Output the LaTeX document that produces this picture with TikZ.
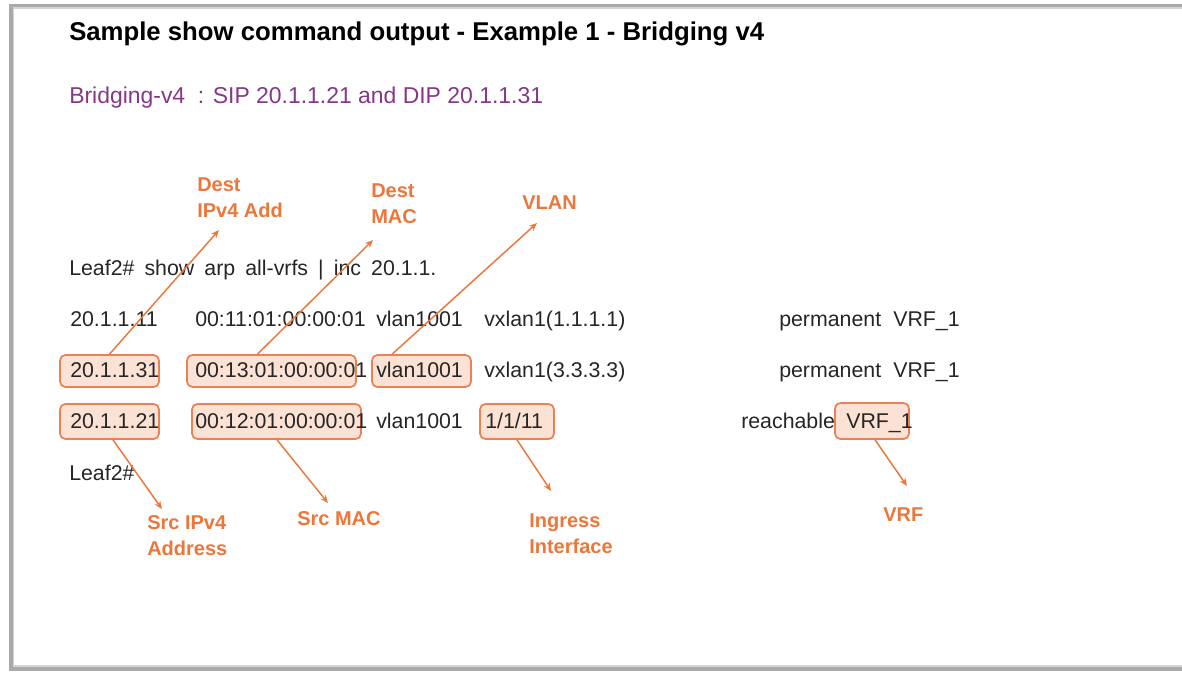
\documentclass[tikz,border=0pt]{standalone}
\usepackage{fontspec}
\setmainfont{Liberation Sans}
\newfontfamily\cmdfont[WordSpace=1.7]{Liberation Sans}
\usetikzlibrary{arrows.meta}
\definecolor{txt}{RGB}{38,38,38}
\definecolor{org}{RGB}{236,119,58}
\definecolor{boxfill}{RGB}{251,226,213}
\definecolor{boxline}{RGB}{234,130,85}
\definecolor{purp}{RGB}{135,55,135}
\definecolor{frame}{RGB}{170,170,170}
\tikzset{
  cell/.style={anchor=base west, inner sep=0pt, text=txt, font=\fontsize{16}{19}\selectfont},
  hbox/.style={draw=boxline, fill=boxfill, line width=1.3pt, rounded corners=4pt, inner sep=0pt},
  lab/.style={anchor=base west, inner sep=0pt, text=org, align=left, font=\fontsize{15}{19.5}\selectfont\bfseries},
  arr/.style={draw=org, line width=1.1pt, -{Stealth[length=6pt,width=5pt]}}
}
\begin{document}
\begin{tikzpicture}[x=0.75pt,y=-0.75pt]
\useasboundingbox (0,0) rectangle (1182,672);
\fill[white] (0,0) rectangle (1182,672);
% frame
\draw[frame, line width=3pt] (1182,5.5) -- (10.5,5.5) -- (10.5,668.5) -- (1182,668.5);
\draw[frame!50, line width=0.8pt] (1182,8) -- (13.5,8) -- (13.5,666) -- (1182,666);
% title
\node[anchor=base west, inner sep=0pt, font=\fontsize{19.3}{23}\selectfont\bfseries, text=black] (title) at (69,40) {Sample show command output - Example 1 - Bridging v4};
\node[anchor=base west, inner sep=0pt, font=\fontsize{17.2}{21}\selectfont, text=purp] (sub) at (69,103) {Bridging-v4\ \ : SIP 20.1.1.21 and DIP 20.1.1.31};
% highlight boxes
\node[hbox, minimum width=99*0.75pt, minimum height=32*0.75pt] (b1) at (109.5,371) {};
\node[hbox, minimum width=169*0.75pt, minimum height=32*0.75pt] (b2) at (271.5,371) {};
\node[hbox, minimum width=99*0.75pt, minimum height=32*0.75pt] (b3) at (421.5,371) {};
\node[hbox, minimum width=99*0.75pt, minimum height=35*0.75pt] (b4) at (109.5,421.5) {};
\node[hbox, minimum width=169*0.75pt, minimum height=35*0.75pt] (b5) at (276.5,421.5) {};
\node[hbox, minimum width=74*0.75pt, minimum height=35*0.75pt] (b6) at (517,421.5) {};
\node[hbox, minimum width=74*0.75pt, minimum height=36*0.75pt] (b7) at (872,421) {};
% command text
\node[cell, font=\cmdfont\fontsize{16}{19}\selectfont] (cmd) at (69,275) {Leaf2\# show arp all-vrfs | inc 20.1.1.};
% row 1
\node[cell] (r1a) at (70,326) {20.1.1.11};
\node[cell] (r1b) at (195,326) {00:11:01:00:00:01};
\node[cell] (r1c) at (376,326) {vlan1001};
\node[cell] (r1d) at (484,326) {vxlan1(1.1.1.1)};
\node[cell] (r1e) at (779,326) {permanent};
\node[cell] (r1f) at (893,326) {VRF\_1};
% row 2
\node[cell] (r2a) at (70,377) {20.1.1.31};
\node[cell] (r2b) at (195,377) {00:13:01:00:00:01};
\node[cell] (r2c) at (376,377) {vlan1001};
\node[cell] (r2d) at (484,377) {vxlan1(3.3.3.3)};
\node[cell] (r2e) at (779,377) {permanent};
\node[cell] (r2f) at (893,377) {VRF\_1};
% row 3
\node[cell] (r3a) at (70,428) {20.1.1.21};
\node[cell] (r3b) at (195,428) {00:12:01:00:00:01};
\node[cell] (r3c) at (376,428) {vlan1001};
\node[cell] (r3d) at (485,428) {1/1/11};
\node[cell] (r3e) at (741,428) {reachable};
\node[cell] (r3f) at (846,428) {VRF\_1};
\node[cell] (prompt) at (69,480) {Leaf2\#};
% labels (base = baseline of last line)
\node[lab] (l1) at (197,217) {Dest\\IPv4 Add};
\node[lab] (l2) at (371,223) {Dest\\MAC};
\node[lab] (l3) at (522,209) {VLAN};
\node[lab] (l4) at (147,555) {Src IPv4\\Address};
\node[lab] (l5) at (297,525) {Src MAC};
\node[lab] (l6) at (529,553) {Ingress\\Interface};
\node[lab] (l7) at (883,521) {VRF};
% arrow tips
\coordinate (t1) at (219,230);
\coordinate (t2) at (373,240);
\coordinate (t3) at (537,223);
\coordinate (t4) at (162,509);
\coordinate (t5) at (328,503);
\coordinate (t6) at (551,491);
\coordinate (t7) at (907,486);
\draw[arr] (b1.north) -- (t1);
\draw[arr] ([xshift=-10.5pt]b2.north) -- (t2);
\draw[arr] ([xshift=-22pt]b3.north) -- (t3);
\draw[arr] ([xshift=2.6pt]b4.south) -- (t4);
\draw[arr] ([xshift=0.4pt]b5.south) -- (t5);
\draw[arr] (b6.south) -- (t6);
\draw[arr] ([xshift=2.3pt]b7.south) -- (t7);
\end{tikzpicture}
\end{document}
